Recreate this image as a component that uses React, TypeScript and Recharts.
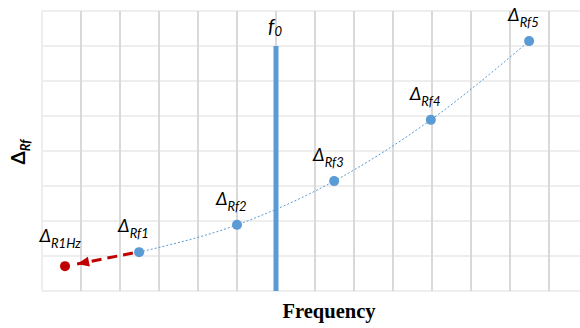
import React from 'react';
import {
  ComposedChart,
  Line,
  Scatter,
  XAxis,
  YAxis,
  ReferenceLine,
  LabelList
} from 'recharts';

// grid positions (frequency cells / delta cells)
const xTicks = [1, 2, 3, 4, 5, 6, 7, 8, 9, 10, 11, 12, 13];
const yTicks = [0, 1, 2, 3, 4, 5, 6, 7, 8];

// measured points along the fitted curve
const rfX = [2.49, 5.0, 7.49, 9.97, 12.49];
const rfY = [1.11, 1.89, 3.14, 4.89, 7.14];
const rfNames = ['Rf1', 'Rf2', 'Rf3', 'Rf4', 'Rf5'];

// extrapolated 1 Hz point
const r1X = [0.59];
const r1Y = [0.71];
const r1Names = ['R1Hz'];

// arrow from Rf1 toward R1Hz
const arrowX = [2.33, 0.9];
const arrowY = [1.086, 0.77];

// resonance marker
const f0X = 6;
const f0Top = 7;

const rfData = rfX.map((x, i) => ({ x, y: rfY[i], name: rfNames[i] }));
const r1Data = r1X.map((x, i) => ({ x, y: r1Y[i], name: r1Names[i] }));
const arrowData = arrowX.map((x, i) => ({ x, y: arrowY[i] }));

const BLUE = '#5b9bd5';
const RED = '#c00000';
const LABEL_FONT = 'Lato, "Open Sans", sans-serif';

const DeltaLabel = (props: any) => {
  const { x, y, value } = props;
  if (x == null || y == null) return null;
  return (
    <text x={x - 21} y={y - 20} fill="#000" fontFamily={LABEL_FONT} fontStyle="italic">
      <tspan fontSize={18}>Δ</tspan>
      <tspan fontSize={13} dy={6}>{value}</tspan>
    </text>
  );
};

const ArrowDot = (props: any) => {
  const { cx, cy, index, points } = props;
  if (index !== 1 || cx == null) return <g key={`a-${index}`} />;
  let ang = Math.atan2(12, -56);
  if (points && points.length > 1) {
    ang = Math.atan2(points[1].y - points[0].y, points[1].x - points[0].x);
  }
  const len = 12;
  const hw = 5;
  const bx = cx - Math.cos(ang) * len;
  const by = cy - Math.sin(ang) * len;
  const px = -Math.sin(ang) * hw;
  const py = Math.cos(ang) * hw;
  return (
    <polygon
      key={`a-${index}`}
      points={`${cx},${cy} ${bx + px},${by + py} ${bx - px},${by - py}`}
      fill={RED}
    />
  );
};

const F0Label = (props: any) => {
  const vb = props.viewBox || {};
  const x = vb.x ?? 0;
  const y = vb.y ?? 0;
  return (
    <text x={x - 8} y={y - 13} fill="#000" fontFamily={LABEL_FONT} fontStyle="italic">
      <tspan fontSize={20}>f</tspan>
      <tspan fontSize={13} dy={3}>0</tspan>
    </text>
  );
};

const XTitle = (props: any) => {
  const vb = props.viewBox || {};
  return (
    <text
      x={329}
      y={(vb.y ?? 291) + 27}
      textAnchor="middle"
      fontFamily='"Liberation Serif", "Times New Roman", serif'
      fontWeight="bold"
      fontSize={20.5}
      fill="#000"
    >
      Frequency
    </text>
  );
};

const YTitle = () => (
  <text
    transform="translate(25,152) rotate(-90)"
    textAnchor="middle"
    fontFamily={LABEL_FONT}
    fill="#000"
  >
    <tspan fontSize={19} fontWeight="bold">Δ</tspan>
    <tspan fontSize={13} fontStyle="italic" fontWeight="bold" dy={5}>Rf</tspan>
  </text>
);

export default function App() {
  return (
    <div
      style={{
        position: 'absolute',
        left: 0,
        top: 0,
        width: 580,
        height: 328,
        overflow: 'hidden',
        background: '#fff'
      }}
    >
      <ComposedChart
        width={600}
        height={328}
        margin={{ top: 11, right: 12, bottom: 0, left: 0 }}
      >
        <XAxis
          type="number"
          dataKey="x"
          domain={[0, 14]}
          ticks={xTicks}
          height={37}
          tick={false}
          tickLine={false}
          axisLine={false}
          label={<XTitle />}
        />
        <YAxis
          type="number"
          dataKey="y"
          domain={[0, 8]}
          ticks={yTicks}
          width={42}
          tick={false}
          tickLine={false}
          axisLine={false}
          label={<YTitle />}
        />
        {yTicks.map((t) => (
          <ReferenceLine key={`h-${t}`} y={t} stroke="#eeeeee" strokeWidth={2} />
        ))}
        <ReferenceLine x={0} stroke="#eeeeee" strokeWidth={2} />
        {xTicks.map((t) => (
          <ReferenceLine key={`v-${t}`} x={t} stroke="#d9d9d9" strokeWidth={2} />
        ))}
        <ReferenceLine
          segment={[
            { x: f0X, y: 0 },
            { x: f0X, y: f0Top }
          ]}
          stroke={BLUE}
          strokeWidth={5}
          label={<F0Label />}
        />
        <Line
          data={rfData}
          dataKey="y"
          type="monotone"
          stroke={BLUE}
          strokeWidth={1}
          strokeDasharray="2 2"
          dot={{ r: 5, fill: BLUE, stroke: BLUE, strokeWidth: 0 }}
          activeDot={false}
          isAnimationActive={false}
        >
          <LabelList dataKey="name" content={<DeltaLabel />} />
        </Line>
        <Line
          data={arrowData}
          dataKey="y"
          type="linear"
          stroke={RED}
          strokeWidth={3}
          strokeDasharray="10 6"
          dot={ArrowDot}
          activeDot={false}
          isAnimationActive={false}
        />
        <Scatter
          data={r1Data}
          dataKey="y"
          fill={RED}
          shape={(p: any) => <circle cx={p.cx} cy={p.cy} r={5} fill={RED} />}
          isAnimationActive={false}
        >
          <LabelList dataKey="name" content={<DeltaLabel />} />
        </Scatter>
      </ComposedChart>
    </div>
  );
}
